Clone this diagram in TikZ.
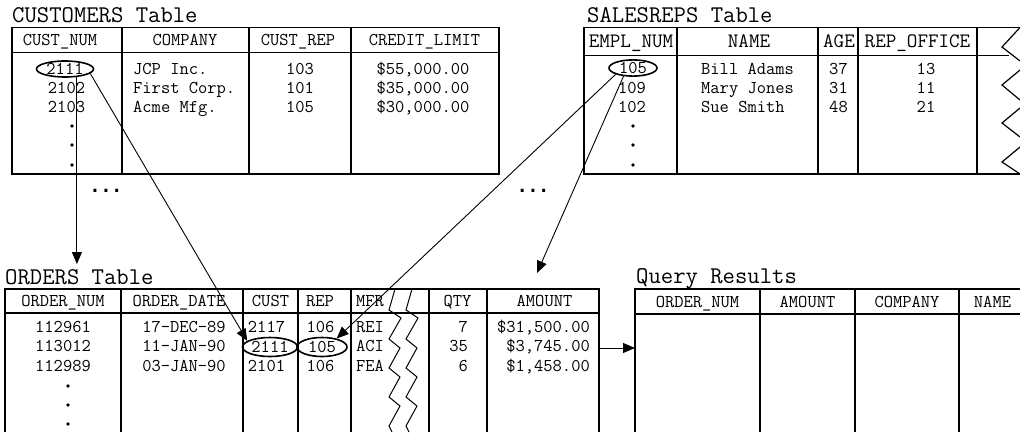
\documentclass[tikz,border=0pt]{standalone}
\usepackage{fontspec}
\newfontfamily\dotfont{DejaVu Sans Mono}
\usetikzlibrary{arrows.meta,shapes.geometric}

\begin{document}
\begin{tikzpicture}[
    x=1pt, y=-1pt,
    font=\ttfamily\fontsize{18}{20}\selectfont,
    frame/.style={line width=1.2pt},
    hdline/.style={line width=1.9pt},
    zig/.style={line width=1pt},
    title/.style={font=\ttfamily\fontsize{24}{26}\selectfont, anchor=base west, inner sep=0pt},
    hd/.style={anchor=base, inner sep=0pt},
    bigHd/.style={hd, font=\ttfamily\fontsize{20.5}{22}\selectfont},
    val/.style={anchor=base, inner sep=0pt},
    valL/.style={anchor=base west, inner sep=0pt},
    valR/.style={anchor=base east, inner sep=0pt},
    hit/.style={ellipse, draw, line width=1.6pt, inner sep=0pt},
    more/.style={font=\dotfont\bfseries\fontsize{18}{20}\selectfont, inner sep=0pt},
    link/.style={line width=0.9pt, -{Triangle[length=12pt,width=10pt]}}
  ]

\useasboundingbox (0,0) rectangle (1020,432);

% --- CUSTOMERS table ---
    \node[title] (custT) at (12,22) {CUSTOMERS Table};
    \draw[frame] (12,27.5) rectangle (499,174);
    \draw[hdline] (12,52.5) -- (499,52.5);
    \foreach \cx in {122,249,351} \draw[frame] (\cx,27.5) -- (\cx,174);
    \foreach \hx/\hdtxt [count=\i] in {60/CUST\_NUM, 185/COMPANY, 298/CUST\_REP, 424.5/CREDIT\_LIMIT}
      \node[hd] (custH\i) at (\hx,45.5) {\hdtxt};

    \node[hit, minimum width=57pt, minimum height=16pt] (c2111) at (65,69) {2111};
    \node[val] (c2102) at (66.5,93.3) {2102};
    \node[val] (c2103) at (66.5,112.6) {2103};
    \foreach \ry/\cco/\crep/\clim [count=\i] in {{74/JCP Inc./103/55,000.00}, {93.3/First Corp./101/35,000.00}, {112.6/Acme Mfg./105/30,000.00}}{
      \node[valL] (custCo\i) at (133,\ry) {\cco};
      \node[val] (custRep\i) at (300,\ry) {\crep};
      \node[val] (custLim\i) at (423,\ry) {\$\clim};
    }
    \foreach \dy in {126,145,165} \fill (72,\dy) circle (1.8pt);
    \node[more] (custMore) at (106,191) {...};

% --- SALESREPS table (cut off on the right) ---
    \node[title] (repT) at (587,22) {SALESREPS Table};
    \draw[frame] (1020,27.5) -- (584,27.5) -- (584,174) -- (1020,174);
    \draw[hdline] (584,55.5) -- (1009,55.5);
    \foreach \cx in {677,818,858,977} \draw[frame] (\cx,27.5) -- (\cx,174);
    \foreach \ya/\yb/\yc in {27.5/47/61, 70/85/100, 108/123/137, 147/162/174}
      \draw[frame] (1020,\ya) -- (1002,\yb) -- (1020,\yc);
    \foreach \hx/\hdtxt [count=\i] in {631/EMPL\_NUM, 749/NAME, 839/AGE, 917.5/REP\_OFFICE}
      \node[bigHd] (repH\i) at (\hx,47.7) {\hdtxt};

    \node[hit, minimum width=48pt, minimum height=16pt] (r105) at (633,68) {105};
    \node[val] (r109) at (632,93.3) {109};
    \node[val] (r102) at (632,112.3) {102};
    \foreach \ry/\rnm/\rage/\roff [count=\i] in {74.3/Bill Adams/37/13, 93.3/Mary Jones/31/11, 112.3/Sue Smith/48/21}{
      \node[valL] (repNm\i) at (701,\ry) {\rnm};
      \node[val] (repAge\i) at (838.5,\ry) {\rage};
      \node[val] (repOf\i) at (926,\ry) {\roff};
    }
    \foreach \dy in {126,145,165} \fill (633,\dy) circle (1.8pt);
    \node[more] (repMore) at (533,191) {...};

% --- ORDERS table (runs off the bottom) ---
    \node[title] (ordT) at (5,284) {ORDERS Table};
    \draw[frame] (5,432) -- (5,289) -- (599,289) -- (599,432);
    \draw[hdline] (5,313) -- (599,313);
    \foreach \cx in {121,243,298,351,429,487} \draw[frame] (\cx,289) -- (\cx,432);
    \foreach \ox in {0,17}
      \draw[zig] (395+\ox,289) -- (389+\ox,310) -- (401+\ox,318) -- (389+\ox,339) -- (400+\ox,348)
        -- (389+\ox,368) -- (400+\ox,377) -- (389+\ox,397) -- (400+\ox,406) -- (389+\ox,426) -- (392+\ox,432);
    \foreach \hx/\hdtxt [count=\i] in {63/ORDER\_NUM, 179/ORDER\_DATE, 270.5/CUST, 320/REP, 457.5/QTY, 544.5/AMOUNT}
      \node[hd] (ordH\i) at (\hx,306.5) {\hdtxt};
    \node[valL] (ordHMfr) at (356,306.5) {MFR};

    \foreach \ry/\onum/\odate/\omfr/\oqty/\oamt [count=\i] in {{332.7/112961/17-DEC-89/REI/7/31,500.00}, {351.7/113012/11-JAN-90/ACI/35/3,745.00}, {371/112989/03-JAN-90/FEA/6/1,458.00}}{
      \node[val] (ordNum\i) at (63,\ry) {\onum};
      \node[val] (ordDt\i) at (184,\ry) {\odate};
      \node[valL] (ordMfr\i) at (356,\ry) {\omfr};
      \node[valR] (ordQty\i) at (468,\ry) {\oqty};
      \node[valR] (ordAmt\i) at (590,\ry) {\$\oamt};
    }
    \node[val] (o2117) at (266.5,332.7) {2117};
    \node[hit, minimum width=55pt, minimum height=19pt] (o2111) at (270,347) {2111};
    \node[val] (o2101) at (266.5,371) {2101};
    \node[val] (o106a) at (320.5,332.7) {106};
    \node[hit, minimum width=50pt, minimum height=19pt] (o105) at (322,347) {105};
    \node[val] (o106b) at (320.5,371) {106};
    \foreach \dy in {386,405,424} \fill (68,\dy) circle (1.8pt);

% --- Query Results table ---
    \node[title] (qryT) at (636,283.3) {Query Results};
    \draw[frame] (635,432) -- (635,289) -- (1020,289);
    \draw[hdline] (635,314) -- (1020,314);
    \foreach \cx in {760,855,959} \draw[frame] (\cx,289) -- (\cx,432);
    \foreach \hx/\hdtxt [count=\i] in {697.5/ORDER\_NUM, 807.5/AMOUNT, 907/COMPANY, 992.5/NAME}
      \node[hd] (qryH\i) at (\hx,307) {\hdtxt};

% --- links ---
    \coordinate (ordIn) at (76,264);
    \coordinate (amtIn) at (537,273);
    \coordinate (ordOut) at (599,348);
    \coordinate (qryIn) at (635,348);
    \draw[link] (c2111.-34) -- (c2111.-34 |- ordIn);
    \draw[link] (c2111.-10) -- (o2111.165);
    \draw[link] (r105.200) -- (o105.30);
    \draw[link] (r105.221) -- (amtIn);
    \draw[link] (ordOut) -- (qryIn);

\end{tikzpicture}
\end{document}
